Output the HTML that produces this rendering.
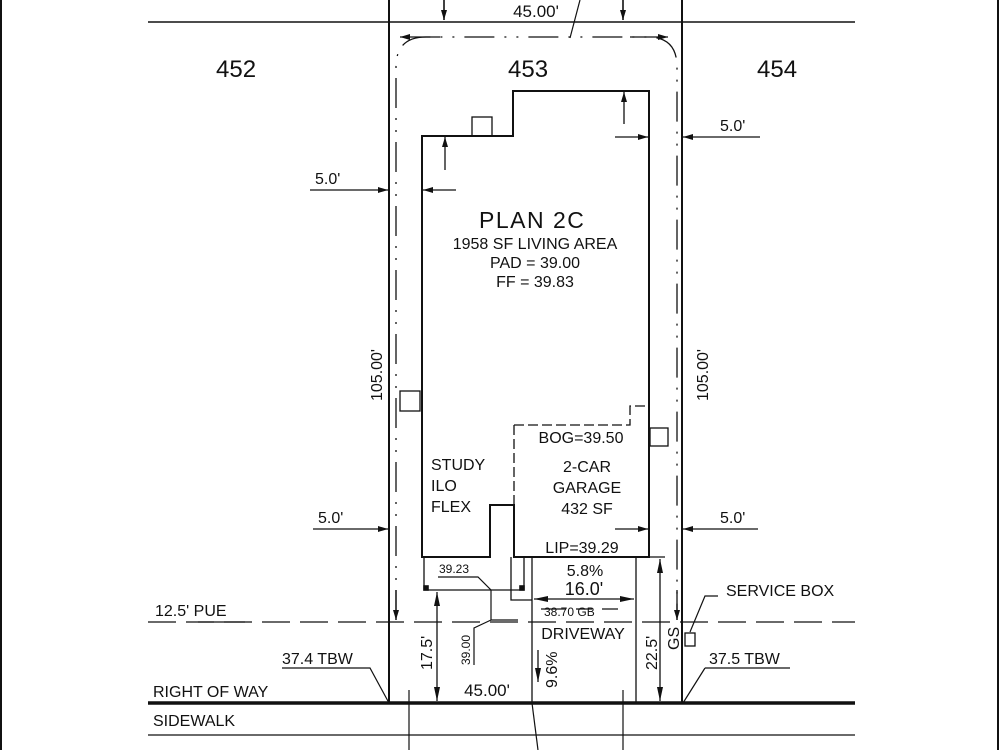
<!DOCTYPE html>
<html><head><style>
body{margin:0;background:#fff}
svg{display:block}
text{font-family:"Liberation Sans",sans-serif;fill:#111}
</style></head><body>
<svg width="1000" height="750" viewBox="0 0 1000 750" xmlns="http://www.w3.org/2000/svg">
<defs>
<marker id="a" viewBox="0 0 10 6" refX="10" refY="3" markerWidth="10" markerHeight="6" orient="auto-start-reverse" markerUnits="userSpaceOnUse"><path d="M0,0L10,3L0,6z" fill="#111"/></marker>
<marker id="b" viewBox="0 0 14 6" refX="14" refY="3" markerWidth="16" markerHeight="6" orient="auto-start-reverse" markerUnits="userSpaceOnUse"><path d="M0,0L14,3L0,6z" fill="#111"/></marker>
</defs>
<g stroke="#111" fill="none" stroke-width="1.6">
<line x1="1" y1="0" x2="1" y2="750" stroke-width="2"/>
<line x1="998" y1="0" x2="998" y2="750" stroke-width="2"/>
<line x1="148" y1="22" x2="855" y2="22"/>
<line x1="389" y1="0" x2="389" y2="703" stroke-width="2"/>
<line x1="682" y1="0" x2="682" y2="703" stroke-width="2"/>
<line x1="148" y1="703" x2="855" y2="703" stroke-width="3.5"/>
<line x1="148" y1="735" x2="855" y2="735" stroke-width="1.2"/>
<line x1="444" y1="0" x2="444" y2="20" marker-end="url(#a)"/>
<line x1="623" y1="0" x2="623" y2="20" marker-end="url(#a)"/>
<line x1="580" y1="0" x2="570" y2="38" stroke-width="1.2"/>
<path d="M396 620 V67 Q396 37 426 37 H648 Q677 37 677 67 V620" stroke-width="1.3" stroke-dasharray="30,10,2,10,2,10"/>
<line x1="440" y1="37" x2="400" y2="37" marker-end="url(#a)" stroke-width="1.3"/>
<line x1="630" y1="37" x2="668" y2="37" marker-end="url(#a)" stroke-width="1.3"/>
<line x1="396" y1="590" x2="396" y2="620" marker-end="url(#a)" stroke-width="1.3"/>
<line x1="677" y1="590" x2="677" y2="620" marker-end="url(#a)" stroke-width="1.3"/>
<path d="M422 136 H513 V91 H649 V557 H514 V505 H490 V557 H422 Z" stroke-width="2"/>
<rect x="472" y="117" width="20" height="19" stroke-width="1.3"/>
<rect x="400" y="391" width="20" height="20" stroke-width="1.3"/>
<rect x="650" y="428" width="18" height="18" stroke-width="1.3"/>
<path d="M514 425 H630 V406 H649" stroke-width="1.3" stroke-dasharray="10,4"/>
<path d="M514 425 V505" stroke-width="1.3" stroke-dasharray="10,4"/>
<line x1="310" y1="190" x2="388" y2="190" marker-end="url(#a)" stroke-width="1.3"/>
<line x1="456" y1="190" x2="423" y2="190" marker-end="url(#a)" stroke-width="1.3"/>
<line x1="445" y1="170" x2="445" y2="137" marker-end="url(#a)" stroke-width="1.3"/>
<line x1="624" y1="124" x2="624" y2="92" marker-end="url(#a)" stroke-width="1.3"/>
<line x1="615" y1="137" x2="648" y2="137" marker-end="url(#a)" stroke-width="1.3"/>
<line x1="760" y1="137" x2="683" y2="137" marker-end="url(#a)" stroke-width="1.3"/>
<line x1="313" y1="529" x2="388" y2="529" marker-end="url(#a)" stroke-width="1.3"/>
<line x1="615" y1="529" x2="648" y2="529" marker-end="url(#a)" stroke-width="1.3"/>
<line x1="758" y1="529" x2="683" y2="529" marker-end="url(#a)" stroke-width="1.3"/>
<path d="M424 557 V590 H524 V557" stroke-width="1.3"/>
<rect x="424" y="586" width="4" height="4" fill="#111"/>
<rect x="520" y="586" width="4" height="4" fill="#111"/>
<path d="M511 557 V600 H532" stroke-width="1.3"/>
<line x1="532" y1="557" x2="532" y2="703" stroke-width="1.3"/>
<line x1="636" y1="557" x2="636" y2="703" stroke-width="1.3"/>
<line x1="534" y1="599" x2="634" y2="599" marker-start="url(#b)" marker-end="url(#b)" stroke-width="1.3"/>
<line x1="437" y1="592" x2="437" y2="701" marker-start="url(#b)" marker-end="url(#b)" stroke-width="1.3"/>
<line x1="660" y1="559" x2="660" y2="701" marker-start="url(#b)" marker-end="url(#b)" stroke-width="1.3"/>
<line x1="538" y1="650" x2="538" y2="682" marker-end="url(#b)" stroke-width="1.3"/>
<line x1="645" y1="557" x2="665" y2="557" stroke-width="1.2"/>
<line x1="148" y1="622" x2="855" y2="622" stroke-width="1.3" stroke-dasharray="28,10"/>
<path d="M198 622 H245" stroke-width="1.2"/>
<path d="M438 577 H478 L491 590 V620 H518" stroke-width="1.2"/>
<path d="M474 665 V628 L491 620" stroke-width="1.2"/>
<path d="M541 609 H566 M576 609 H592 M602 609 H618" stroke-width="1.2"/>
<rect x="685" y="633" width="10" height="13" stroke-width="1.3"/>
<path d="M690 632 L705 596 H718" stroke-width="1.2"/>
<path d="M282 668 H370 L389 703" stroke-width="1.2"/>
<path d="M705 668 H790 M705 668 L683 703" stroke-width="1.2"/>
<line x1="409" y1="690" x2="409" y2="750" stroke-width="1.2"/>
<line x1="623" y1="690" x2="623" y2="750" stroke-width="1.2"/>
<line x1="532" y1="703" x2="538" y2="750" stroke-width="1.2"/>
</g>
<g font-size="24">
<text x="216" y="77">452</text>
<text x="508" y="77">453</text>
<text x="757" y="77">454</text>
</g>
<text x="479" y="228" font-size="23" letter-spacing="1.5">PLAN 2C</text>
<g font-size="16" text-anchor="middle">
<text x="535" y="249">1958 SF LIVING AREA</text>
<text x="535" y="268">PAD = 39.00</text>
<text x="535" y="287">FF = 39.83</text>
<text x="581" y="443">BOG=39.50</text>
<text x="587" y="472">2-CAR</text>
<text x="587" y="493">GARAGE</text>
<text x="587" y="514">432 SF</text>
<text x="582" y="553">LIP=39.29</text>
<text x="585" y="576">5.8%</text>
<text x="584" y="595" font-size="18">16.0'</text>
<text x="583" y="639">DRIVEWAY</text>
<text x="487" y="696" font-size="17">45.00'</text>
<text x="536" y="17" font-size="17">45.00'</text>
</g>
<g font-size="16">
<text x="431" y="470">STUDY</text>
<text x="431" y="491">ILO</text>
<text x="431" y="512">FLEX</text>
<text x="315" y="184">5.0'</text>
<text x="720" y="131">5.0'</text>
<text x="318" y="523">5.0'</text>
<text x="720" y="523">5.0'</text>
<text x="155" y="616">12.5' PUE</text>
<text x="726" y="596">SERVICE BOX</text>
<text x="282" y="664">37.4 TBW</text>
<text x="709" y="664">37.5 TBW</text>
<text x="153" y="697">RIGHT OF WAY</text>
<text x="153" y="726">SIDEWALK</text>
</g>
<text x="544" y="616" font-size="12">38.70 GB</text>
<text x="439" y="573" font-size="12">39.23</text>
<text font-size="12" transform="translate(470 665) rotate(-90)">39.00</text>
<g font-size="16">
<text transform="translate(382 401) rotate(-90)">105.00'</text>
<text transform="translate(708 401) rotate(-90)">105.00'</text>
<text transform="translate(432 670) rotate(-90)">17.5'</text>
<text transform="translate(657 670) rotate(-90)">22.5'</text>
<text transform="translate(679 650) rotate(-90)">GS</text>
<text transform="translate(557 688) rotate(-90)">9.6%</text>
</g>
</svg>
</body></html>
